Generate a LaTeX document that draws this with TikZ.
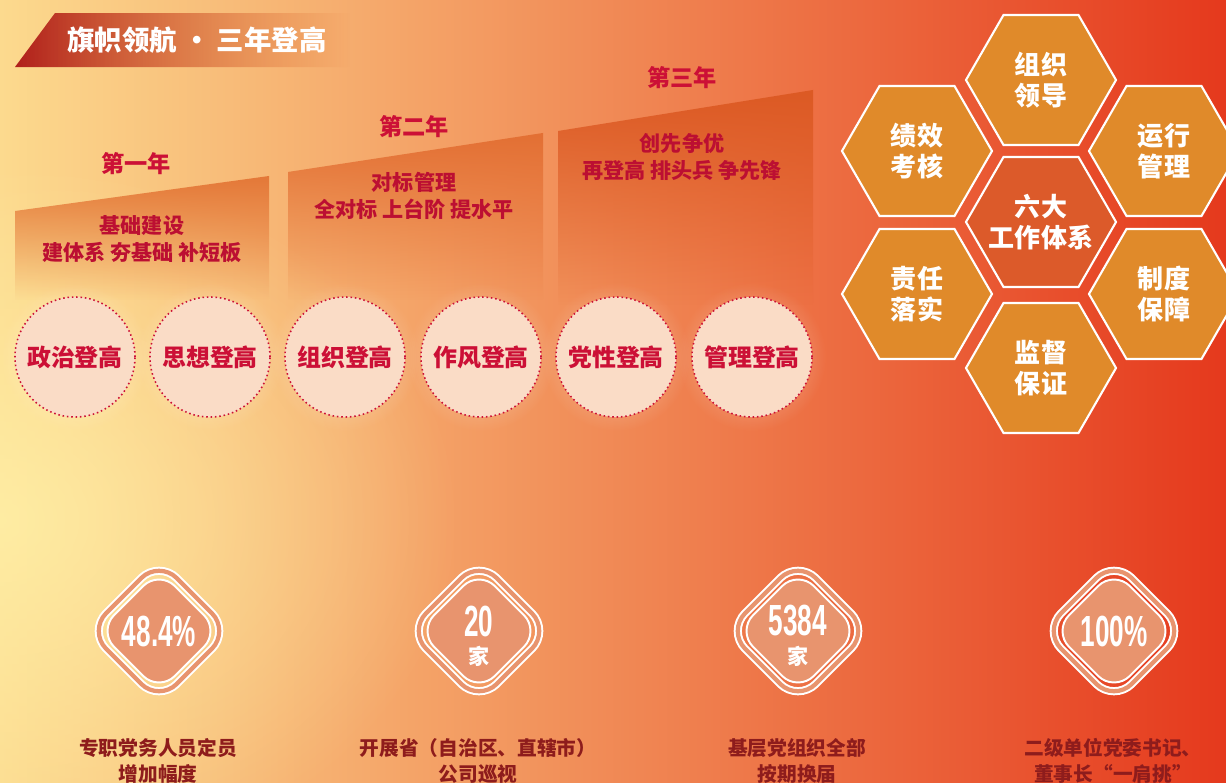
\documentclass[tikz,border=0pt]{standalone}
\usepackage{fontspec}
\setmainfont{Noto Sans CJK SC}
\newfontfamily\numfont[FakeStretch=0.6]{Liberation Sans}
\usetikzlibrary{shapes.geometric,fadings}
\definecolor{bgyellow}{HTML}{FCDA8E}
\definecolor{bgorange}{HTML}{F2A259}
\definecolor{bgred}{HTML}{E5391D}
\definecolor{glowyellow}{HTML}{FFF1A8}
\definecolor{bannerred}{HTML}{B01F1B}
\definecolor{crimson}{HTML}{CC1036}
\definecolor{deepred}{HTML}{8E1C1C}
\definecolor{peach}{HTML}{FADCC6}
\definecolor{hexorange}{HTML}{E08A2A}
\definecolor{hexcore}{HTML}{DC5A2A}
\definecolor{salmon}{HTML}{E8946E}
\definecolor{stepone}{HTML}{E47838}
\definecolor{steptwo}{HTML}{E37034}
\definecolor{stepthree}{HTML}{DC5A24}
\tikzfading[name=glowfade, inner color=transparent!0, outer color=transparent!100]
\tikzfading[name=bannerfade, left color=transparent!0, middle color=transparent!10, right color=transparent!100]
\tikzstyle{ring}=[draw=crimson,dotted,line width=1.1pt,circle,fill=peach,minimum size=3cm,inner sep=0pt,text=crimson,font=\bfseries\fontsize{17}{20}\selectfont]
\tikzstyle{hexa}=[regular polygon,regular polygon sides=6,minimum size=3.75cm,inner sep=0pt,outer sep=0pt,draw=white,line width=1.5pt,fill=hexorange,text=white,align=center,font=\bfseries\fontsize{18.5}{22}\selectfont]
\tikzstyle{hexcenter}=[fill=hexcore]
\tikzstyle{hextext}=[text=white,align=center,inner sep=0pt,font=\bfseries\fontsize{18.5}{22}\selectfont]
\tikzstyle{yearlabel}=[text=crimson,font=\bfseries\fontsize{16.5}{20}\selectfont]
\tikzstyle{steptext}=[text=crimson!92!black,align=center,font=\bfseries\fontsize{15}{19}\selectfont]
\tikzstyle{badgering}=[draw=white,line width=1.4pt,double=salmon,double distance=3pt,rounded corners=18pt]
\tikzstyle{badgecore}=[draw=white,line width=1.4pt,fill=salmon,rounded corners=16pt]
\tikzstyle{bignum}=[text=white,inner sep=0pt,font=\numfont\bfseries\fontsize{31}{31}\selectfont]
\tikzstyle{unit}=[text=white,inner sep=0pt,font=\bfseries\fontsize{15}{15}\selectfont]
\tikzstyle{caption}=[text=deepred,align=center,font=\bfseries\fontsize{14}{18}\selectfont]

\begin{document}
\begin{tikzpicture}[x=0.025cm,y=-0.025cm]
\useasboundingbox (0,0) rectangle (1226,783);
\clip (0,0) rectangle (1226,783);
% background
\shade[left color=bgyellow,middle color=bgorange,right color=bgred] (0,0) rectangle (1226,783);
\fill[glowyellow,opacity=.8,path fading=glowfade] (0,520) ellipse (460 and 360);

% title banner
\shade[left color=bannerred,right color=bannerred!55!orange,path fading=bannerfade]
  (15,67) -- (55,13) -- (350,13) -- (350,67) -- cycle;
\node[text=white,font=\bfseries\fontsize{19.5}{22}\selectfont] (title) at (197,40) {旗帜领航 • 三年登高};

% three steps
\fill[stepone,path fading=south] (15,211) -- (269,176) -- (269,300) -- (15,300) -- cycle;
\fill[steptwo,path fading=south] (288,172) -- (543,133) -- (543,300) -- (288,300) -- cycle;
\fill[stepthree,path fading=south] (558,131) -- (813,90) -- (813,305) -- (558,305) -- cycle;
\foreach \place/\name/\txt in {{(136,164)/y1/第一年}, {(414,127)/y2/第二年}, {(682,78)/y3/第三年}}
    \node[yearlabel] (\name) at \place {\txt};
\node[steptext] (s1) at (142,239) {基础建设\\建体系 夯基础 补短板};
\node[steptext] (s2) at (414,196) {对标管理\\全对标 上台阶 提水平};
\node[steptext] (s3) at (682,157) {创先争优\\再登高 排头兵 争先锋};

% six circles
\foreach \x in {75,210,345,481,616,752}
    \fill[white,opacity=.45,path fading=glowfade] (\x,357) circle (74);
\foreach \place/\name/\txt in { {(75,357)/p1/政治登高}, {(210,357)/p2/思想登高}, {(345,357)/p3/组织登高},
    {(481,357)/p4/作风登高}, {(616,357)/p5/党性登高}, {(752,357)/p6/管理登高}}
    \node[ring] (\name) at \place {\txt};

% honeycomb
\node[hexa,hexcenter] (h0) at (1041,222) {};
\node[hextext] (h0t) at (h0.center) {六大\\工作体系};
\foreach \place/\name/\txt in { {(1041,80)/h1/组织\\领导}, {(1164,151)/h2/运行\\管理}, {(1164,294)/h3/制度\\保障},
    {(1041,368)/h4/监督\\保证}, {(917,294)/h5/责任\\落实}, {(917,151)/h6/绩效\\考核}}
    \node[hexa] (\name) at \place {\txt};

% badges
\foreach \cx in {159,479,798,1114}{
    \draw[badgering,shift={(\cx,631)},rotate=45] (-50,-50) rectangle (50,50);
    \draw[badgecore,shift={(\cx,631)},rotate=45] (-43,-43) rectangle (43,43);
}
\node[bignum] (n1) at (159,631) {48.4\%};
\node[bignum] (n2) at (479,621) {20};
\node[unit] (u2) at (479,656) {家};
\node[bignum] (n3) at (798,621) {5384};
\node[unit] (u3) at (798,656) {家};
\node[bignum] (n4) at (1114,631) {100\%};

% captions
\node[caption] (t1) at (158,761) {专职党务人员定员\\增加幅度};
\node[caption] (t2) at (478,761) {开展省（自治区、直辖市）\\公司巡视};
\node[caption] (t3) at (797,761) {基层党组织全部\\按期换届};
\node[caption] (t4) at (1113,761) {二级单位党委书记、\\董事长“一肩挑”};
\end{tikzpicture}
\end{document}
